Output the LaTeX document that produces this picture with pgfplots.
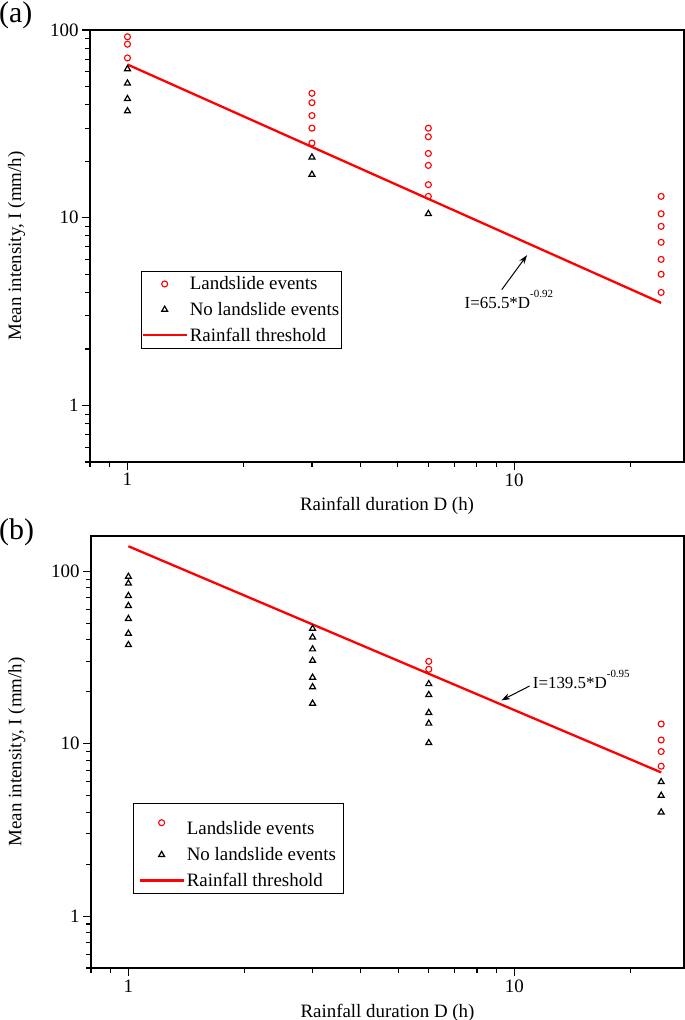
\documentclass[border=0pt]{standalone}
\usepackage{fontspec}
\setmainfont{Liberation Serif}
\usepackage{pgfplots}
\pgfplotsset{compat=1.18}
\usetikzlibrary{arrows.meta}

\newcommand{\lblfont}{\fontsize{19}{22}\selectfont}
\newcommand{\annfont}{\fontsize{17}{20}\selectfont}
\newcommand{\supfont}{\fontsize{11}{12}\selectfont}

\pgfplotsset{
  myaxis/.style={
    scale only axis,
    xmin=0.8, xmax=27.5, ymin=0.5,
    xtick={1,10}, xticklabels={1,10},
    minor xtick={0.8,0.9,2,3,4,5,6,7,8,9,20},
    ytick={1,10,100}, yticklabels={1,10,100},
    minor ytick={0.5,0.6,0.7,0.8,0.9,2,3,4,5,6,7,8,9,20,30,40,50,60,70,80,90},
    tick align=outside, tick pos=left,
    major tick length=8bp, minor tick length=5bp,
    axis line style={line width=1.3bp},
    every tick/.style={black, line width=1.1bp},
    tick label style={font=\lblfont},
    label style={font=\lblfont},
    xlabel={Rainfall duration D (h)},
    ylabel={Mean intensity, I (mm/h)},
    legend cell align=left,
    legend image code/.code={\draw[mark repeat=2,mark phase=2,##1] plot coordinates {(0bp,0bp) (22bp,0bp) (44bp,0bp)};},
    legend style={draw=black, line width=1bp, font=\lblfont, inner xsep=0bp, inner ysep=0bp,
      anchor=north west, nodes={inner xsep=2bp, inner ysep=5.5bp}},
  },
  landslide/.style={only marks, mark=o, red, mark size=3bp, line width=1.1bp},
  nolandslide/.style={only marks, mark=triangle, black, mark size=3.4bp, line width=1.2bp},
  threshold/.style={red, line width=2.3bp, no marks},
}

\begin{document}
\begin{tikzpicture}
\useasboundingbox (0bp,0bp) rectangle (685bp,1020bp);

% ---------- panel (a) ----------
\begin{loglogaxis}[myaxis,
  at={(90bp,558bp)}, anchor=south west,
  width=594bp, height=432bp, ymax=100,
  xlabel style={at={(axis description cs:0.5,-0.101)}, anchor=center},
  ylabel style={at={(axis description cs:-0.1237,0.5)}, anchor=center},
  legend style={at={(axis description cs:0.0859,0.443)}},
]
\addplot[landslide] coordinates {
 (1,92) (1,84) (1,71)
 (3,46) (3,41) (3,35) (3,30) (3,25)
 (6,30) (6,27) (6,22) (6,19) (6,15) (6,13)
 (24,13) (24,10.5) (24,9) (24,7.4) (24,6) (24,5) (24,4)
};
\addlegendentry{Landslide events}
\addplot[nolandslide] coordinates {
 (1,62) (1,52) (1,43) (1,37)
 (3,21) (3,17)
 (6,10.5)
};
\addlegendentry{No landslide events}
\addplot[threshold] coordinates {(1,65.5) (24,3.52)};
\addlegendentry{Rainfall threshold}
\draw[-{Stealth[length=9bp,width=6bp]}, line width=1bp] (axis cs:9.29,4.14) -- (axis cs:10.8,6.32);
\node[anchor=base, inner sep=0pt, font=\annfont] at (axis cs:9.69,3.30) {I=65.5*D\raisebox{11bp}{\supfont -0.92}};
\end{loglogaxis}

% ---------- panel (b) ----------
\begin{loglogaxis}[myaxis,
  at={(91bp,52bp)}, anchor=south west,
  width=593bp, height=432bp, ymax=160,
  xlabel style={at={(axis description cs:0.5,-0.104)}, anchor=center},
  ylabel style={at={(axis description cs:-0.125,0.5)}, anchor=center},
  legend style={at={(axis description cs:0.0708,0.382)}, inner xsep=5bp},
]
\addplot[landslide] coordinates {
 (6,30) (6,27)
 (24,13) (24,10.5) (24,9) (24,7.4)
};
\addlegendentry{\rule{0pt}{26bp}Landslide events}
\addplot[nolandslide] coordinates {
 (1,93) (1,85) (1,72) (1,63) (1,53) (1,43.5) (1,37.4)
 (3,46.5) (3,41.4) (3,35.3) (3,30.3) (3,24.2) (3,21.3) (3,17.1)
 (6,22.2) (6,19.2) (6,15.1) (6,13.1) (6,10.1)
 (24,6) (24,5) (24,4)
};
\addlegendentry{No landslide events}
\addplot[threshold] coordinates {(1,139.5) (24,6.81)};
\addlegendentry{Rainfall threshold}
\draw[-{Stealth[length=9bp,width=6bp]}, line width=1bp] (axis cs:10.95,21.6) -- (axis cs:9.25,17.8);
\node[anchor=base west, inner sep=0pt, font=\annfont] at (axis cs:11.15,20.8) {I=139.5*D\raisebox{11bp}{\supfont -0.95}};
\end{loglogaxis}

% panel letters
\node[anchor=base west, inner sep=0pt, font=\fontsize{30}{34}\selectfont] at (-1bp,997bp) {(a)};
\node[anchor=base west, inner sep=0pt, font=\fontsize{30}{34}\selectfont] at (-1bp,480bp) {(b)};
\end{tikzpicture}
\end{document}
